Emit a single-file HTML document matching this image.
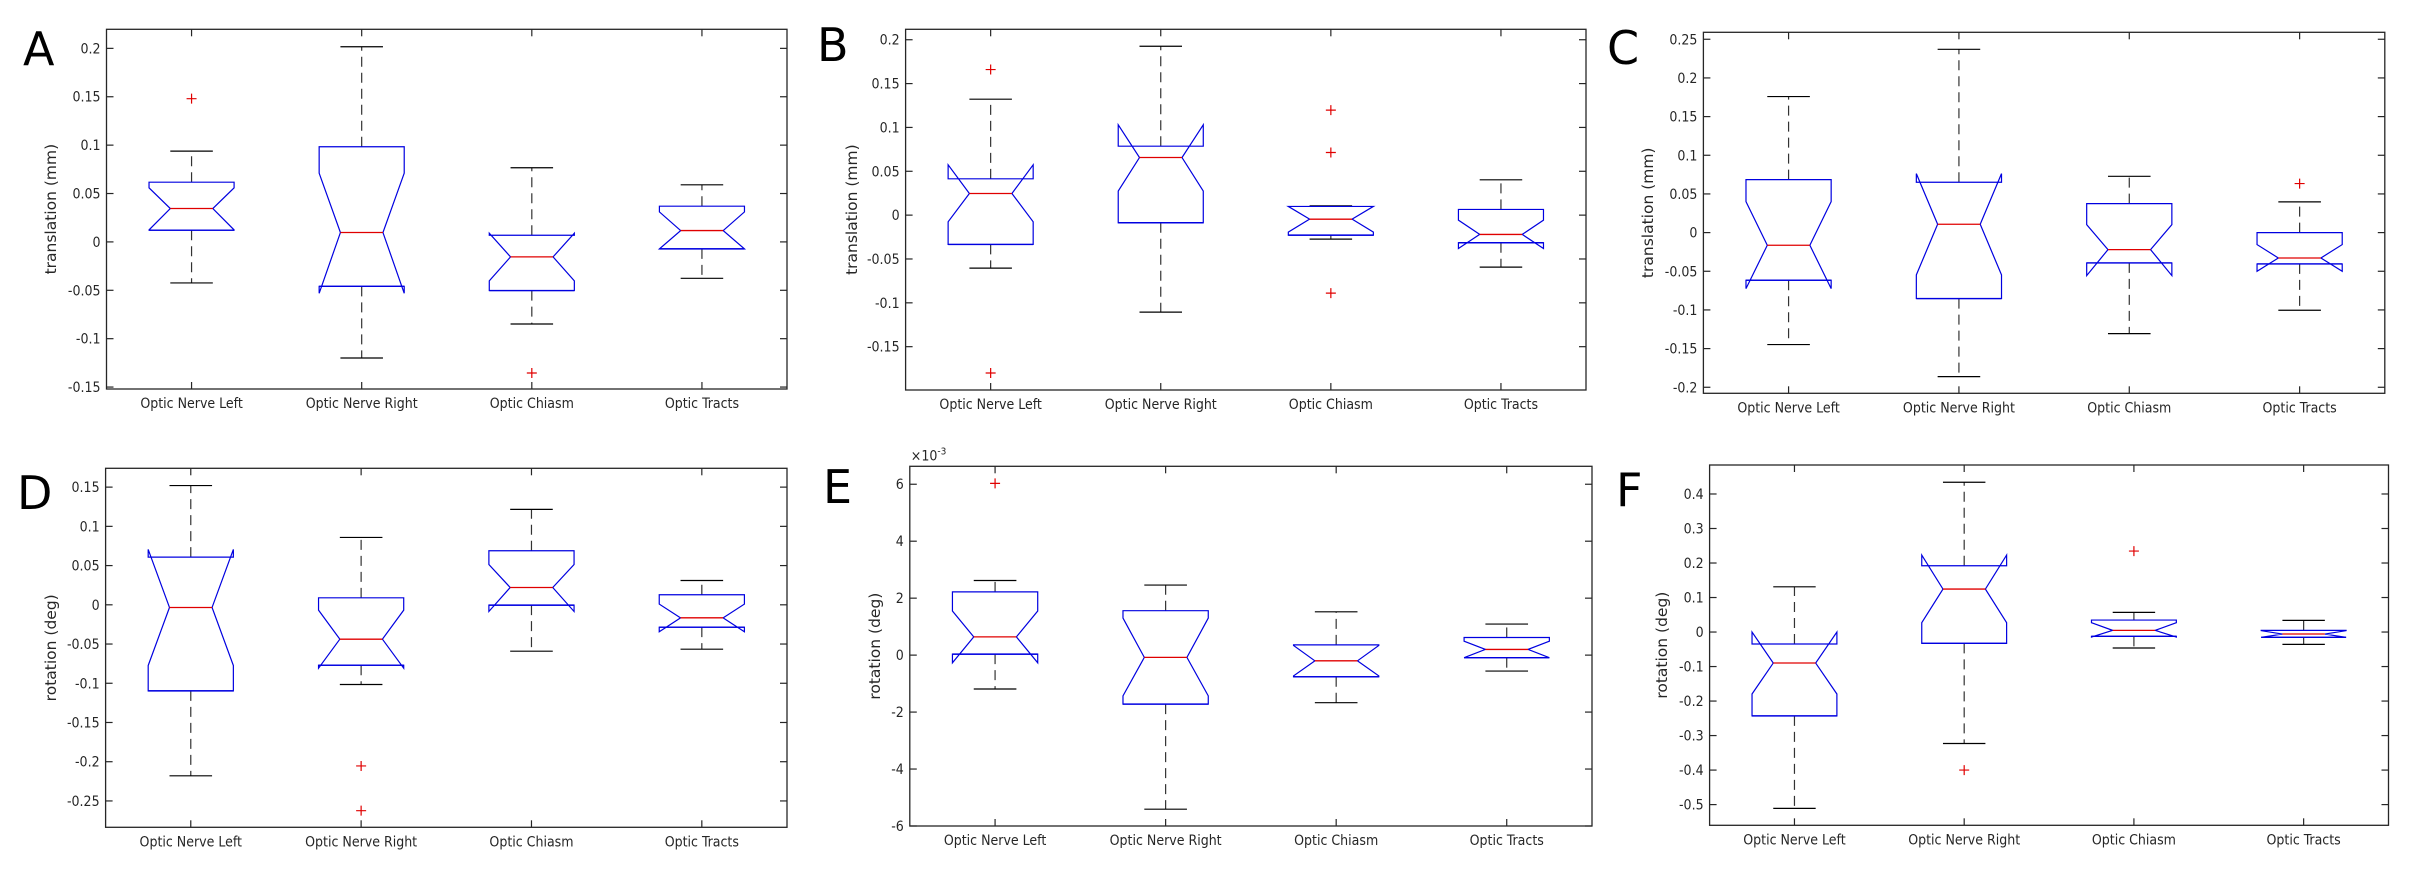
<!DOCTYPE html>
<html><head><meta charset="utf-8">
<style>
html,body{margin:0;padding:0;background:#fff;}
svg{display:block;}
.tick{font-family:"DejaVu Sans Condensed","Liberation Sans Narrow","Liberation Sans",sans-serif;font-size:14px;fill:#262626;}
.ylab{font-family:"DejaVu Sans","Liberation Sans",sans-serif;font-size:15.5px;fill:#262626;}
.letter{font-family:"DejaVu Sans","Liberation Sans",sans-serif;font-size:46px;fill:#000;}
</style></head>
<body>
<svg id="fig" width="2424" height="874" viewBox="0 0 2424 874" xmlns="http://www.w3.org/2000/svg"></svg>
<script>
const categories = ["Optic Nerve Left","Optic Nerve Right","Optic Chiasm","Optic Tracts"];

// Panel A: translation (mm)
const A_whiskerHi = [0.0938, 0.2017, 0.0766, 0.059];
const A_q3 = [0.0617, 0.0983, 0.0069, 0.0369];
const A_notchHi = [0.0559, 0.071, 0.009, 0.031];
const A_median = [0.0345, 0.0097, -0.0155, 0.0117];
const A_notchLo = [0.0124, -0.0531, -0.0403, -0.0072];
const A_q1 = [0.0121, -0.0459, -0.0503, -0.0072];
const A_whiskerLo = [-0.0424, -0.12, -0.0848, -0.0376];
const A_outliers = [[0.148], [], [-0.1355], []];
const A_ticks = [-0.15, -0.1, -0.05, 0, 0.05, 0.1, 0.15, 0.2];
const A_tickLabels = ["-0.15","-0.1","-0.05","0","0.05","0.1","0.15","0.2"];

// Panel B: translation (mm)
const B_whiskerHi = [0.1322, 0.1926, 0.0106, 0.0403];
const B_q3 = [0.0414, 0.0786, 0.0099, 0.0065];
const B_notchHi = [0.0574, 0.103, 0.0099, -0.0057];
const B_median = [0.0247, 0.0657, -0.0046, -0.022];
const B_notchLo = [-0.0076, 0.0274, -0.0194, -0.038];
const B_q1 = [-0.0334, -0.0087, -0.0228, -0.0315];
const B_whiskerLo = [-0.0604, -0.1106, -0.0274, -0.0593];
const B_outliers = [[0.166, -0.18], [], [0.1197, 0.0714, -0.0889], []];
const B_ticks = [-0.15, -0.1, -0.05, 0, 0.05, 0.1, 0.15, 0.2];
const B_tickLabels = ["-0.15","-0.1","-0.05","0","0.05","0.1","0.15","0.2"];

// Panel C: translation (mm)
const C_whiskerHi = [0.1759, 0.237, 0.0728, 0.0397];
const C_q3 = [0.0685, 0.0651, 0.0375, 0];
const C_notchHi = [0.0401, 0.0763, 0.0103, -0.0155];
const C_median = [-0.0164, 0.0108, -0.022, -0.0328];
const C_notchLo = [-0.0724, -0.0547, -0.0556, -0.05];
const C_q1 = [-0.0616, -0.0853, -0.0392, -0.0405];
const C_whiskerLo = [-0.1448, -0.1862, -0.1306, -0.1004];
const C_outliers = [[], [], [], [0.0634]];
const C_ticks = [-0.2, -0.15, -0.1, -0.05, 0, 0.05, 0.1, 0.15, 0.2, 0.25];
const C_tickLabels = ["-0.2","-0.15","-0.1","-0.05","0","0.05","0.1","0.15","0.2","0.25"];

// Panel D: rotation (deg)
const D_whiskerHi = [0.152, 0.0859, 0.1216, 0.031];
const D_q3 = [0.0608, 0.0089, 0.0689, 0.0128];
const D_notchHi = [0.0706, -0.0068, 0.0514, 0.0009];
const D_median = [-0.0034, -0.0438, 0.0221, -0.0166];
const D_notchLo = [-0.0774, -0.0808, -0.0085, -0.0344];
const D_q1 = [-0.1097, -0.077, -0.0004, -0.0285];
const D_whiskerLo = [-0.218, -0.1016, -0.0591, -0.0566];
const D_outliers = [[], [-0.2054, -0.2624], [], []];
const D_ticks = [-0.25, -0.2, -0.15, -0.1, -0.05, 0, 0.05, 0.1, 0.15];
const D_tickLabels = ["-0.25","-0.2","-0.15","-0.1","-0.05","0","0.05","0.1","0.15"];

// Panel E: rotation (deg) x 1e-3
const E_whiskerHi = [2.62, 2.46, 1.52, 1.09];
const E_q3 = [2.22, 1.56, 0.36, 0.62];
const E_notchHi = [1.55, 1.30, 0.34, 0.49];
const E_median = [0.64, -0.08, -0.2, 0.2];
const E_notchLo = [-0.27, -1.43, -0.73, -0.09];
const E_q1 = [0.035, -1.72, -0.76, -0.09];
const E_whiskerLo = [-1.19, -5.41, -1.67, -0.56];
const E_outliers = [[6.03], [], [], []];
const E_ticks = [-6, -4, -2, 0, 2, 4, 6];
const E_tickLabels = ["-6","-4","-2","0","2","4","6"];

// Panel F: rotation (deg)
const F_whiskerHi = [0.131, 0.434, 0.057, 0.0338];
const F_q3 = [-0.0347, 0.192, 0.0347, 0.0048];
const F_notchHi = [0, 0.223, 0.027, 0.004];
const F_median = [-0.0898, 0.1245, 0.0048, -0.0058];
const F_notchLo = [-0.1795, 0.027, -0.0145, -0.0154];
const F_q1 = [-0.243, -0.0328, -0.0125, -0.0154];
const F_whiskerLo = [-0.511, -0.323, -0.0463, -0.0357];
const F_outliers = [[], [-0.40], [0.2346], []];
const F_ticks = [-0.5, -0.4, -0.3, -0.2, -0.1, 0, 0.1, 0.2, 0.3, 0.4];
const F_tickLabels = ["-0.5","-0.4","-0.3","-0.2","-0.1","0","0.1","0.2","0.3","0.4"];

const NS = "http://www.w3.org/2000/svg";
const svg = document.getElementById("fig");
function mk(tag, attrs, parent) {
  const e = document.createElementNS(NS, tag);
  for (const k in attrs) e.setAttribute(k, attrs[k]);
  (parent || svg).appendChild(e);
  return e;
}

const panels = [
  {id:"a", letter:"A", lx:23, ly:65, L:106.5, R:787, T:29.3, B:389, ymin:-0.152, ymax:0.2197, ylab:"translation (mm)", ylx:56,
   wh:A_whiskerHi, q3:A_q3, nh:A_notchHi, md:A_median, nl:A_notchLo, q1:A_q1, wl:A_whiskerLo, out:A_outliers, ticks:A_ticks, tl:A_tickLabels},
  {id:"b", letter:"B", lx:817, ly:61, L:905.6, R:1586, T:29.3, B:390, ymin:-0.1994, ymax:0.2119, ylab:"translation (mm)", ylx:857,
   wh:B_whiskerHi, q3:B_q3, nh:B_notchHi, md:B_median, nl:B_notchLo, q1:B_q1, wl:B_whiskerLo, out:B_outliers, ticks:B_ticks, tl:B_tickLabels},
  {id:"c", letter:"C", lx:1607, ly:64, L:1703.4, R:2384.8, T:32.3, B:393.3, ymin:-0.2078, ymax:0.259, ylab:"translation (mm)", ylx:1653,
   wh:C_whiskerHi, q3:C_q3, nh:C_notchHi, md:C_median, nl:C_notchLo, q1:C_q1, wl:C_whiskerLo, out:C_outliers, ticks:C_ticks, tl:C_tickLabels},
  {id:"d", letter:"D", lx:17, ly:509, L:105.6, R:787, T:468.3, B:827.3, ymin:-0.2836, ymax:0.174, ylab:"rotation (deg)", ylx:56,
   wh:D_whiskerHi, q3:D_q3, nh:D_notchHi, md:D_median, nl:D_notchLo, q1:D_q1, wl:D_whiskerLo, out:D_outliers, ticks:D_ticks, tl:D_tickLabels},
  {id:"e", letter:"E", lx:823, ly:503, L:909.8, R:1592, T:466.3, B:826, ymin:-6, ymax:6.63, ylab:"rotation (deg)", ylx:880, exp:true,
   wh:E_whiskerHi, q3:E_q3, nh:E_notchHi, md:E_median, nl:E_notchLo, q1:E_q1, wl:E_whiskerLo, out:E_outliers, ticks:E_ticks, tl:E_tickLabels},
  {id:"f", letter:"F", lx:1616, ly:506, L:1709.6, R:2388.5, T:465, B:825.3, ymin:-0.56, ymax:0.484, ylab:"rotation (deg)", ylx:1667,
   wh:F_whiskerHi, q3:F_q3, nh:F_notchHi, md:F_median, nl:F_notchLo, q1:F_q1, wl:F_whiskerLo, out:F_outliers, ticks:F_ticks, tl:F_tickLabels}
];

panels.forEach(p => {
  const g = mk("g", {});
  
  
  const xs = i => p.L + (i + 0.5) * (p.R - p.L) / 4;
  const ys = v => p.B - (v - p.ymin) / (p.ymax - p.ymin) * (p.B - p.T);
  const unit = (p.R - p.L) / 4;
  const w = unit * 0.25;

  const let_ = mk("text", {x:p.lx, y:p.ly, class:"letter"}, g);
  let_.textContent = p.letter;
  
  

  const frame = mk("rect", {x:p.L, y:p.T, width:p.R-p.L, height:p.B-p.T, fill:"none", stroke:"#262626", "stroke-width":1.3}, g);
  
  

  p.ticks.forEach((t, i) => {
    const y = ys(t);
    mk("line", {x1:p.L, x2:p.L+7, y1:y, y2:y, stroke:"#262626", "stroke-width":1.2}, g);
    mk("line", {x1:p.R, x2:p.R-7, y1:y, y2:y, stroke:"#262626", "stroke-width":1.2}, g);
    const tx = mk("text", {x:p.L-6, y:y+5, "text-anchor":"end", class:"tick"}, g);
    tx.textContent = p.tl[i];
    
    
  });
  if (p.exp) {
    const ex = mk("text", {x:p.L+1, y:p.T-6, class:"tick"}, g);
    ex.innerHTML = '\u00d710<tspan dy="-6" font-size="10">-3</tspan>';
    
    
  }
  categories.forEach((c, i) => {
    const x = xs(i);
    mk("line", {x1:x, x2:x, y1:p.B, y2:p.B-7, stroke:"#262626", "stroke-width":1.2}, g);
    mk("line", {x1:x, x2:x, y1:p.T, y2:p.T+7, stroke:"#262626", "stroke-width":1.2}, g);
    const tx = mk("text", {x:x, y:p.B+19, "text-anchor":"middle", class:"tick"}, g);
    tx.textContent = c;
    
    
  });
  const yl = mk("text", {x:0, y:0, "text-anchor":"middle", class:"ylab", transform:`translate(${p.ylx},${(p.T+p.B)/2}) rotate(-90)`}, g);
  yl.textContent = p.ylab;
  
  

  categories.forEach((c, i) => {
    const x = xs(i);
    const bg = mk("g", {}, g);
    
    
    mk("line", {x1:x, x2:x, y1:ys(p.q3[i]), y2:ys(p.wh[i]), stroke:"#333", "stroke-width":1.2, "stroke-dasharray":"10,6"}, bg);
    mk("line", {x1:x, x2:x, y1:ys(p.q1[i]), y2:ys(p.wl[i]), stroke:"#333", "stroke-width":1.2, "stroke-dasharray":"10,6"}, bg);
    mk("line", {x1:x-w/2, x2:x+w/2, y1:ys(p.wh[i]), y2:ys(p.wh[i]), stroke:"#000", "stroke-width":1.2}, bg);
    mk("line", {x1:x-w/2, x2:x+w/2, y1:ys(p.wl[i]), y2:ys(p.wl[i]), stroke:"#000", "stroke-width":1.2}, bg);
    const pts = [
      [x-w, ys(p.q3[i])], [x-w, ys(p.nh[i])], [x-w/2, ys(p.md[i])], [x-w, ys(p.nl[i])], [x-w, ys(p.q1[i])],
      [x+w, ys(p.q1[i])], [x+w, ys(p.nl[i])], [x+w/2, ys(p.md[i])], [x+w, ys(p.nh[i])], [x+w, ys(p.q3[i])]
    ];
    mk("polygon", {points:pts.map(q => q.join(",")).join(" "), fill:"none", stroke:"#0000e0", "stroke-width":1.2}, bg);
    mk("line", {x1:x-w, x2:x+w, y1:ys(p.q1[i]), y2:ys(p.q1[i]), stroke:"#0000e0", "stroke-width":1.4}, bg);
    mk("line", {x1:x-w/2, x2:x+w/2, y1:ys(p.md[i]), y2:ys(p.md[i]), stroke:"#e00000", "stroke-width":1.3}, bg);
    p.out[i].forEach(v => {
      const y = ys(v);
      const o = mk("path", {d:`M${x-5},${y}H${x+5}M${x},${y-5}V${y+5}`, stroke:"#e00000", "stroke-width":1.2, fill:"none"}, bg);
      
      
    });
  });
});
</script>
</body></html>
